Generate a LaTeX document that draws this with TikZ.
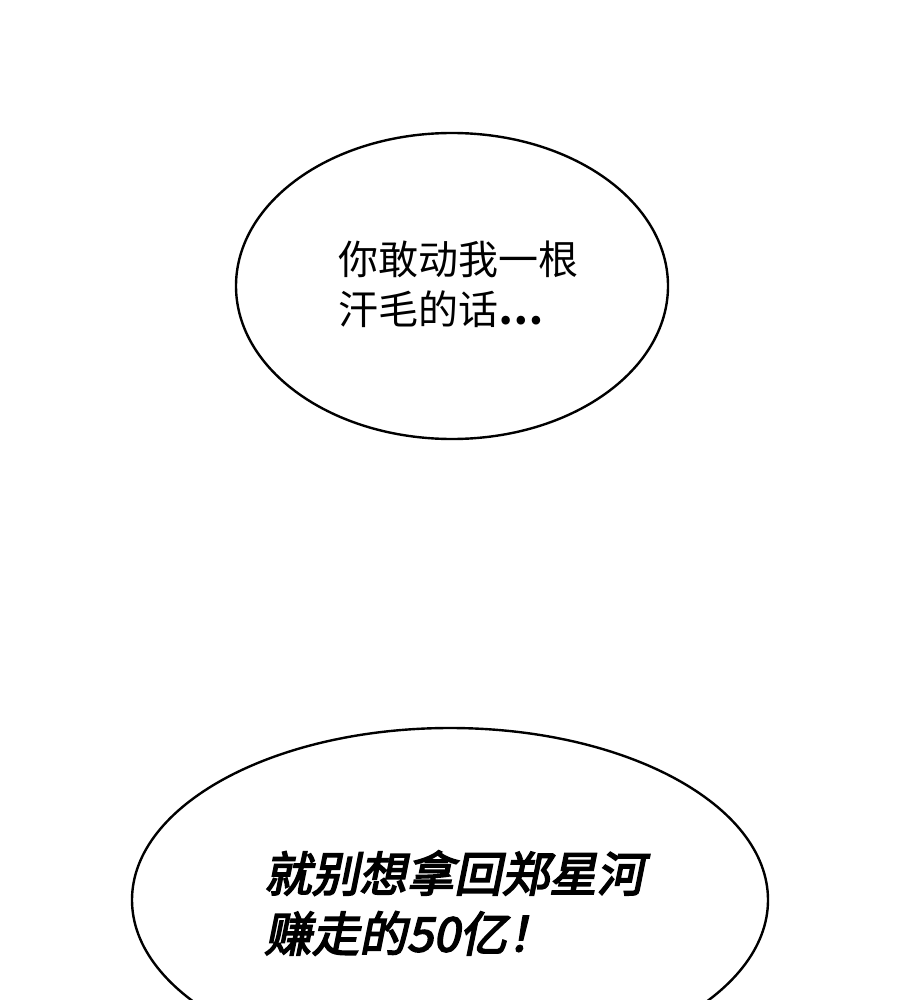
\documentclass[tikz,border=0pt]{standalone}
\usepackage{fontspec}
\newfontfamily\cjk{Noto Sans CJK SC}
\newfontfamily\cjkb[FakeSlant=0.2,FakeBold=3.5]{Noto Sans CJK SC}
\begin{document}
\begin{tikzpicture}[x=1pt,y=-1pt,
  bubble/.style={draw=black,line width=2.4pt,fill=white}]
\useasboundingbox[fill=white] (0,0) rectangle (900,1000);
\begin{scope}
\clip (0,0) rectangle (900,1000);
\draw[bubble] (452,286) ellipse [x radius=216, y radius=153];
\draw[bubble] (450,900) ellipse [x radius=318, y radius=172];
\end{scope}
\node[anchor=west,align=left,font=\cjk\fontsize{40}{50}\selectfont,inner sep=0pt] (t1) at (338,284) {你敢动我一根\\汗毛的话\textbf{…}};
\node[anchor=west,align=left,font=\cjkb\fontsize{47.5}{60}\selectfont,inner sep=0pt] (t2) at (264,903) {就别想拿回郑星河\\赚走的50亿！};
\end{tikzpicture}
\end{document}
